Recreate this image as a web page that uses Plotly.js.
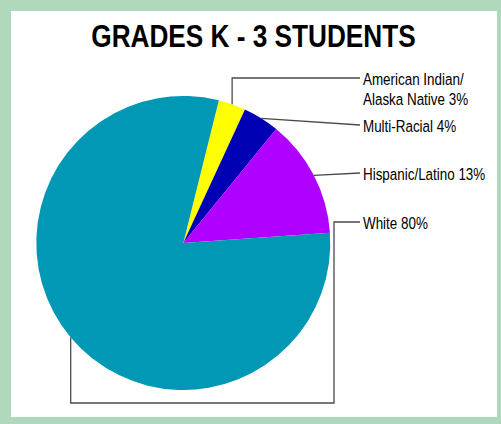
<!DOCTYPE html>
<html><head><meta charset="utf-8">
<script src="https://cdn.plot.ly/plotly-3.0.1.min.js"></script>
<style>html,body{margin:0;padding:0;background:#fff}</style>
</head><body><div id="chart" style="width:501px;height:424px"></div>
<script>
const categories = ["American Indian/<br>Alaska Native", "Multi-Racial", "Hispanic/Latino", "White"];
const values = [3, 4, 13, 80];
const colors = ["#ffff00", "#0000b4", "#b000ff", "#0098b4"];
const titleText = "GRADES K - 3 STUDENTS";

const W = 501, H = 424;
const cx = 183.3, cy = 243, R = 147;     // pie geometry (px)
const rotation = 14;
const FONT = "'Liberation Sans Narrow', 'Arial Narrow', 'Liberation Sans', Arial, sans-serif";
const NARROW_LABEL = 0.79, NARROW_TITLE = 0.845;   // horizontal squeeze to mimic a narrow face

const px = x => x / W, py = y => 1 - y / H;

// slice mid-angle edge points from the data
const total = values.reduce((a, b) => a + b, 0);
let acc = 0;
const edge = values.map(v => {
  const mid = rotation + (acc + v / 2) / total * 360;
  acc += v;
  const a = mid * Math.PI / 180;
  return [cx + R * Math.sin(a), cy - R * Math.cos(a)];
});

const labelX = 360;
const lineColor = "#4a4a4a";
function path(pts) {
  return { type: "path", xref: "paper", yref: "paper", layer: "above",
    path: pts.map((p, i) => (i ? "L" : "M") + px(p[0]) + "," + py(p[1])).join(" "),
    line: { color: lineColor, width: 1.3 } };
}
const labelY = [78, 125, 173, 222];
const shapes = [
  { type: "rect", xref: "paper", yref: "paper", layer: "below",
    x0: px(11), x1: px(497), y0: py(11), y1: py(417), fillcolor: "#ffffff", line: { width: 0 } },
  path([edge[0], [edge[0][0], labelY[0]], [labelX, labelY[0]]]),
  path([edge[1], [labelX, labelY[1]]]),
  path([edge[2], [labelX, labelY[2]]]),
  path([edge[3], [edge[3][0], 403], [334, 403], [334, labelY[3]], [labelX, labelY[3]]])
];

const annotations = [];
categories.forEach((c, i) => {
  const lines = (c + " " + values[i] + "%").split("<br>");
  lines.forEach((ln, j) => annotations.push({
    xref: "paper", yref: "paper", x: px(labelX + 1), y: py(labelY[i] + 1 + 20 * j),
    xanchor: "left", yanchor: "middle", align: "left",
    text: ln, showarrow: false,
    font: { family: FONT, size: 17, color: "#000" }
  }));
});

const data = [{
  type: "pie", labels: categories, values: values, sort: false, direction: "clockwise",
  rotation: rotation, textinfo: "none", hoverinfo: "label+percent",
  marker: { colors: colors, line: { width: 0 } },
  domain: { x: [px(cx - R), px(cx + R)], y: [py(cy + R), py(cy - R)] },
  showlegend: false
}];

const layout = {
  width: W, height: H, margin: { l: 0, r: 0, t: 0, b: 0 },
  paper_bgcolor: "#b0d8bd",
  title: { text: titleText, x: px(253.5), xref: "paper", xanchor: "center",
    y: py(36), yref: "paper", yanchor: "middle",
    font: { family: FONT, size: 31, weight: "bold", color: "#000" } },
  shapes: shapes, annotations: annotations
};

function squeeze(el, mode, f) {
  const b = el.getBBox();
  const ax = mode === "center" ? b.x + b.width / 2 : b.x;
  const prev = el.getAttribute("transform") || "";
  el.setAttribute("transform", prev + " translate(" + ax + ",0) scale(" + f + ",1) translate(" + (-ax) + ",0)");
}
Plotly.newPlot("chart", data, layout, { displayModeBar: false, staticPlot: true }).then(gd => {
  gd.querySelectorAll("text.gtitle").forEach(t => squeeze(t, "center", NARROW_TITLE));
  gd.querySelectorAll("text.annotation-text").forEach(t => squeeze(t, "left", NARROW_LABEL));
});
</script></body></html>
